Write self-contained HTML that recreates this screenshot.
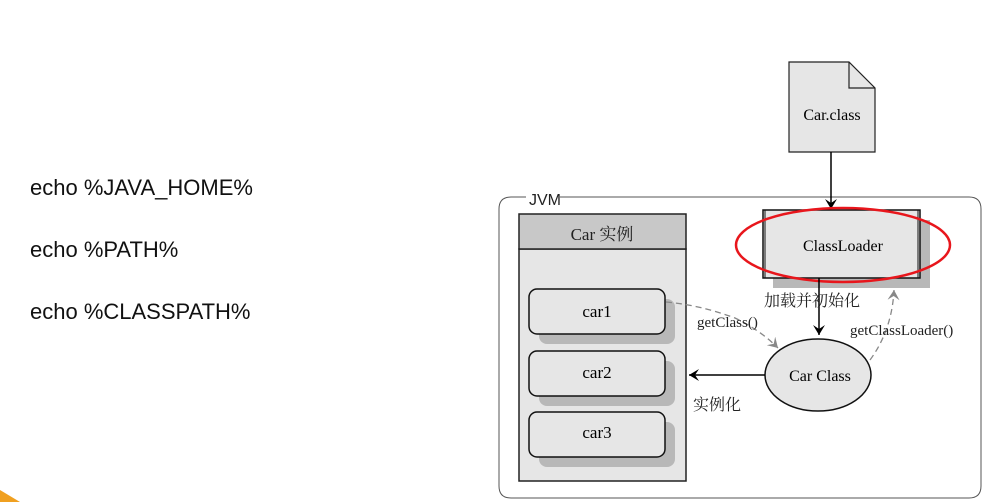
<!DOCTYPE html>
<html><head><meta charset="utf-8"><style>
body{margin:0;width:984px;height:502px;background:#fff;overflow:hidden;position:relative;font-family:"Liberation Sans",sans-serif}
.t{position:absolute;left:30px;font-size:22px;color:#111}
</style></head><body>
<div class="t" style="top:175px">echo %JAVA_HOME%</div>
<div class="t" style="top:237px">echo %PATH%</div>
<div class="t" style="top:299px">echo %CLASSPATH%</div>
<svg width="984" height="502" style="position:absolute;left:0;top:0" font-family="'Liberation Serif','Noto Serif CJK SC',serif">
<defs>
<marker id="a" markerWidth="12" markerHeight="12" refX="10" refY="6" orient="auto" markerUnits="userSpaceOnUse"><path d="M0,0 L10,6 L0,12 L4,6 Z" fill="#000"/></marker>
<marker id="g" markerWidth="12" markerHeight="12" refX="10" refY="6" orient="auto" markerUnits="userSpaceOnUse"><path d="M0,0 L10,6 L0,12 L4,6 Z" fill="#888"/></marker>
</defs>
<polygon points="0,490 20,502 0,502" fill="#f0a020"/>
<path d="M560,197 H969 Q981,197 981,209 V486 Q981,498 969,498 H511 Q499,498 499,486 V209 Q499,197 511,197 H526" fill="none" stroke="#555" stroke-width="1"/>
<text x="529" y="205" font-family="'Liberation Sans',sans-serif" font-size="16" fill="#222">JVM</text>
<rect x="519" y="249" width="167" height="232" fill="#e6e6e6" stroke="#222" stroke-width="1.5"/>
<rect x="519" y="214" width="167" height="35" fill="#c8c8c8" stroke="#222" stroke-width="1.5"/>
<text x="602" y="240" font-size="17" text-anchor="middle" fill="#222">Car 实例</text>
<g>
<rect x="539" y="299" width="136" height="45" rx="8" fill="#b8b8b8"/>
<rect x="529" y="289" width="136" height="45" rx="8" fill="#e6e6e6" stroke="#111" stroke-width="1.5"/>
<text x="597" y="317" font-size="17" text-anchor="middle">car1</text>
<rect x="539" y="361" width="136" height="45" rx="8" fill="#b8b8b8"/>
<rect x="529" y="351" width="136" height="45" rx="8" fill="#e6e6e6" stroke="#111" stroke-width="1.5"/>
<text x="597" y="378" font-size="17" text-anchor="middle">car2</text>
<rect x="539" y="422" width="136" height="45" rx="8" fill="#b8b8b8"/>
<rect x="529" y="412" width="136" height="45" rx="8" fill="#e6e6e6" stroke="#111" stroke-width="1.5"/>
<text x="597" y="438" font-size="17" text-anchor="middle">car3</text>
</g>
<path d="M789,62 H849 L875,88 V152 H789 Z" fill="#e6e6e6" stroke="#222" stroke-width="1.2"/>
<path d="M849,62 V88 H875" fill="none" stroke="#222" stroke-width="1.2"/>
<text x="832" y="120" font-size="16" text-anchor="middle">Car.class</text>
<line x1="831" y1="152" x2="831" y2="209" stroke="#000" stroke-width="1.5" marker-end="url(#a)"/>
<rect x="773" y="220" width="157" height="68" fill="#b8b8b8"/>
<rect x="763" y="210" width="157" height="68" fill="#e6e6e6" stroke="#111" stroke-width="1.5"/>
<line x1="765" y1="210" x2="765" y2="278" stroke="#111"/><line x1="918" y1="210" x2="918" y2="278" stroke="#111"/>
<text x="843" y="251" font-size="16" text-anchor="middle">ClassLoader</text>
<ellipse cx="843" cy="245" rx="107" ry="37" fill="none" stroke="#e8161c" stroke-width="2.5"/>
<line x1="819" y1="278" x2="819" y2="335" stroke="#000" stroke-width="1.5" marker-end="url(#a)"/>
<text x="764" y="306" font-size="16" fill="#222">加载并初始化</text>
<ellipse cx="818" cy="375" rx="53" ry="36" fill="#e6e6e6" stroke="#111" stroke-width="1.5"/>
<text x="820" y="381" font-size="16" text-anchor="middle">Car Class</text>
<line x1="765" y1="375" x2="689" y2="375" stroke="#000" stroke-width="1.5" marker-end="url(#a)"/>
<text x="693" y="410" font-size="16" fill="#222">实例化</text>
<path d="M666,302 Q700,305 735,318 Q760,330 778,348" fill="none" stroke="#888" stroke-width="1.3" stroke-dasharray="6,4" marker-end="url(#g)"/>
<text x="697" y="327" font-size="15" fill="#222">getClass()</text>
<path d="M870,360 Q892,330 894,290" fill="none" stroke="#888" stroke-width="1.3" stroke-dasharray="6,4" marker-end="url(#g)"/>
<text x="850" y="335" font-size="15" fill="#222">getClassLoader()</text>
</svg>
</body></html>
